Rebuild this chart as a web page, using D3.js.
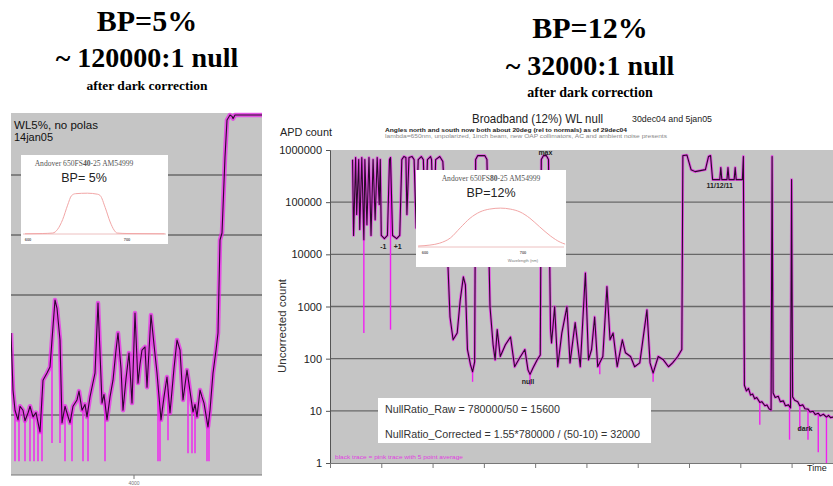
<!DOCTYPE html>
<html>
<head>
<meta charset="utf-8">
<script src="https://cdn.jsdelivr.net/npm/d3@7/dist/d3.min.js"></script>
<style>
  html, body { margin: 0; padding: 0; background: #fff; }
  svg { display: block; }
</style>
</head>
<body>
<svg id="chart" width="833" height="486"></svg>
<script>
// ---------------- data ----------------
// headline blocks above each panel
const headlineLeft = ["BP=5%", "~ 120000:1 null", "after dark correction"];
const headlineRight = ["BP=12%", "~ 32000:1 null", "after dark correction"];

// WL5% scan (14jan05): sample index vs APD count, 5-point average
const leftTime = [2770, 2790, 2810, 2840, 2860, 2890, 2910, 2940, 2960, 2990,
  3020, 3060, 3090, 3130, 3160, 3190, 3210, 3230, 3260, 3280,
  3310, 3330, 3360, 3390, 3430, 3450, 3480, 3510, 3530, 3560,
  3580, 3610, 3640, 3660, 3680, 3700, 3730, 3760, 3790, 3820,
  3840, 3870, 3890, 3920, 3950, 3980, 4010, 4040, 4060, 4080,
  4110, 4130, 4170, 4200, 4230, 4270, 4300, 4330, 4360, 4400,
  4430, 4460, 4490, 4530, 4560, 4590, 4610, 4630, 4660, 4680,
  4700, 4740, 4760, 4790, 4820, 4840, 4860, 4880, 4910, 4930,
  4960, 4980, 4990, 5010, 5280];
const leftCount = [233, 26, 12, 8.3, 14, 12, 8, 10.8, 14, 9.3,
  11, 5.2, 38, 50, 63, 300, 826, 600, 178, 7.4,
  14, 10.8, 7.4, 14, 17.8, 25, 12, 15, 9.3, 20,
  29, 50, 736, 110, 15.8, 22, 8.3, 20, 38, 120,
  233, 60, 12, 40, 108, 15.8, 500, 34, 70, 121,
  136, 29, 464, 150, 50, 8.3, 20, 43, 10.8, 60,
  178, 121, 17.8, 56, 25, 11.2, 15, 9.3, 26, 20,
  15.8, 6.3, 12, 50, 120, 233, 8250, 10800, 200000, 826000,
  1000000, 950000, 870000, 1000000, 1000000];
// raw-trace dropouts below the averaged curve
const leftSpikeTime = [2810, 2850, 2910, 2960, 3000, 3040, 3080, 3180, 3260, 3310,
  3380, 3490, 3540, 3710, 4240, 4260, 4340, 4540, 4580, 4610, 4730, 4750];
const leftSpikeLow = [1.7, 1.7, 1.7, 1.7, 1.7, 1.7, 1.7, 3.4, 3.4, 1.7,
  1.7, 1.7, 1.7, 1.7, 1.7, 1.7, 3.8, 2.3, 2.3, 2.3, 1.7, 1.7];
const leftTickValues = [4000];

// Broadband (12%) WL null, 30dec04 and 5jan05
const rightTime = [22, 23, 25, 26, 28, 29, 31, 33, 34, 36,
  38, 40, 42, 44, 46, 48, 49, 50, 53, 56,
  58, 59, 61, 65, 68, 70, 72, 74, 75, 77,
  80, 82, 84, 86, 89, 91, 93, 95, 98, 99,
  101, 103, 107, 110, 114, 117, 120, 124, 127, 130,
  132, 134, 137, 139, 141, 142, 144, 151, 153, 156,
  159, 161, 163, 166, 171, 176, 180, 185, 190, 193,
  195, 198, 202, 205, 206, 208, 211, 213, 215, 216,
  219, 222, 226, 231, 234, 239, 244, 249, 252, 255,
  258, 261, 266, 270, 273, 276, 280, 285, 288, 293,
  297, 302, 309, 312, 315, 320, 325, 330, 334, 339,
  343, 344, 348, 352, 356, 366, 369, 371, 373, 380,
  381, 382, 387, 388, 389, 394, 395, 396, 402, 403,
  404, 406, 408, 410, 412, 414, 416, 419, 421, 424,
  426, 428, 430, 431, 432, 434, 437, 439, 442, 444,
  447, 449, 450, 451, 453, 456, 458, 461, 463, 466,
  468, 471, 473, 476, 478, 481, 484, 486, 488, 491];
const rightCount = [654000, 23000, 715000, 58000, 654000, 30000, 715000, 19000, 654000, 37000,
  715000, 23000, 654000, 46000, 715000, 90000, 654000, 23000, 20000, 23000,
  654000, 715000, 23000, 20000, 23000, 654000, 750000, 715000, 58000, 715000,
  750000, 654000, 32000, 654000, 750000, 654000, 37000, 654000, 750000, 654000,
  27000, 654000, 750000, 600000, 19000, 630, 230, 310, 1350, 3700,
  2600, 150, 76, 56, 87, 654000, 780000, 780000, 654000, 990,
  185, 95, 360, 110, 185, 260, 70, 104, 150, 61,
  50, 67, 95, 118, 654000, 780000, 780000, 654000, 360, 200,
  990, 70, 310, 990, 83, 490, 70, 4400, 95, 150,
  630, 70, 110, 2400, 230, 310, 70, 230, 130, 110,
  70, 83, 860, 83, 53, 110, 95, 70, 83, 110,
  150, 780000, 800000, 420000, 385000, 420000, 750000, 780000, 270000, 270000,
  460000, 270000, 270000, 460000, 270000, 270000, 460000, 270000, 270000, 750000,
  31, 24, 27, 20, 21, 17, 18, 14.5, 15, 12.5,
  13, 11, 10.4, 750000, 22, 18, 19, 15, 15.5, 12.5,
  13, 11.4, 270000, 18.5, 16, 15, 12.5, 13, 11, 10.8,
  9.5, 9.8, 8.5, 9, 8, 8.6, 7.6, 8.2, 7.4, 7.6];
const rightSpikeTime = [33, 59, 139, 195, 263, 315, 419, 448, 458, 466, 476, 484];
const rightSpikeLow = [310, 360, 36, 31, 50, 36, 5.4, 2.8, 4.3, 2.8, 1.6, 1.0];

const decades = [1, 10, 100, 1000, 10000, 100000, 1000000];
const decadeLabels = ["1", "10", "100", "1000", "10000", "100000", "1000000"];
const timeTicks = [0, 50, 100, 150, 200, 250, 300, 350, 400, 450, 500];

// trace annotations: label, time, count
const noteText = ["-1", "+1", "max", "null", "11/12/11", "dark"];
const noteTime = [52, 66, 210, 193, 380, 463];
const noteCount = [14000, 14000, 890000, 37, 207000, 4.5];

// filter transmission curves (wavelength nm, transmission %)
const narrowWl = [597, 615, 625, 630, 635, 640, 644, 648, 660, 670, 673, 678, 683, 687, 690, 700, 738];
const narrowT = [0.5, 1, 2, 10, 30, 60, 80, 84, 85, 83, 80, 55, 25, 8, 2, 1, 0.5];
const broadWl = [593, 605, 615, 626, 636, 646, 656, 666, 677, 687, 697, 707, 717, 728, 738, 743];
const broadT = [2, 4, 8, 19, 40, 60, 73, 79, 81, 79, 73, 60, 42, 23, 10, 6];
const wlTicks = [600, 700];

const nullRatioLines = ["NullRatio_Raw = 780000/50 = 15600",
  "NullRatio_Corrected = 1.55*780000 / (50-10) = 32000"];

// ---------------- drawing ----------------
const svg = d3.select("#chart");
const SANS = "'Liberation Sans', Arial, Helvetica, sans-serif";
const SERIF = "'Liberation Serif', 'Times New Roman', serif";
const PLOT_BG = "#c5c5c5";
const GRID = "#686868";
const TRACE = "#2c0a2c";
const RAW = "#f020f0";

svg.append("rect").attr("width", 833).attr("height", 486).attr("fill", "#fff");

function countAt(times, counts, t) {
  const i = d3.bisectLeft(times, t);
  if (i <= 0) return counts[0];
  if (i >= times.length) return counts[counts.length - 1];
  const f = (t - times[i - 1]) / (times[i] - times[i - 1]);
  return Math.exp(Math.log(counts[i - 1]) * (1 - f) + Math.log(counts[i]) * f);
}

function drawTrace(g, x, y, times, counts, spikeT, spikeLow, band) {
  const pts = times.map((t, i) => [t, counts[i]]);
  const line = d3.line().x(d => x(d[0])).y(d => y(d[1]));
  g.append("path").attr("d", line(pts)).attr("fill", "none")
    .attr("stroke", RAW).attr("stroke-width", band)
    .attr("stroke-linejoin", "round").attr("stroke-opacity", 0.7);
  g.selectAll(null).data(spikeT.map((t, i) => [t, spikeLow[i]])).join("line")
    .attr("x1", d => x(d[0])).attr("x2", d => x(d[0]))
    .attr("y1", d => y(countAt(times, counts, d[0]))).attr("y2", d => y(d[1]))
    .attr("stroke", RAW).attr("stroke-width", 1.4);
  g.append("path").attr("d", line(pts)).attr("fill", "none")
    .attr("stroke", TRACE).attr("stroke-width", 1.1).attr("stroke-linejoin", "round");
}

function filterInset(g, box, tx, x, y, wl, tr, model, bp) {
  g.append("rect").attr("x", box[0]).attr("y", box[1])
    .attr("width", box[2] - box[0]).attr("height", box[3] - box[1]).attr("fill", "#fff");
  const t = g.append("text").attr("x", tx).attr("y", box[1] + 11)
    .attr("text-anchor", "middle").attr("font-family", SERIF)
    .attr("font-size", 7.6).attr("fill", "#555");
  t.append("tspan").text("Andover 650FS");
  t.append("tspan").attr("font-weight", "bold").text(model);
  t.append("tspan").text("-25 AM54999");
  g.append("text").attr("x", tx).attr("y", box[1] + 27)
    .attr("text-anchor", "middle").attr("font-family", SANS)
    .attr("font-size", 12.5).attr("fill", "#222").text(bp);
  const base = y(0);
  g.append("line").attr("x1", box[0] + 2).attr("x2", box[2] - 2)
    .attr("y1", base).attr("y2", base).attr("stroke", "#e8b0b0").attr("stroke-width", 0.8);
  g.append("path").attr("d", d3.line().curve(d3.curveMonotoneX)
      .x(d => x(d[0])).y(d => y(d[1]))(wl.map((w, i) => [w, tr[i]])))
    .attr("fill", "none").attr("stroke", "#f2a6a6").attr("stroke-width", 1);
  g.selectAll(null).data(wlTicks).join("text")
    .attr("x", d => x(d)).attr("y", base + 7).attr("text-anchor", "middle")
    .attr("font-family", SANS).attr("font-size", 4).attr("font-weight", "bold")
    .attr("fill", "#666").text(d => d);
}

// headlines
function headline(lines, cx, ys, sizes) {
  lines.forEach((s, i) => {
    svg.append("text").attr("x", cx).attr("y", ys[i]).attr("text-anchor", "middle")
      .attr("font-family", SERIF).attr("font-weight", "bold")
      .attr("font-size", sizes[i]).attr("fill", "#000").text(s);
  });
}
headline(headlineLeft, 147, [31, 67, 90], [30, 28, 13.5]);
headline(headlineRight, 590, [38, 75, 97], [30, 28, 14]);

// ---------- left panel ----------
const lx = d3.scaleLinear().domain([2770, 5280]).range([11, 262]);
const ly = d3.scaleLog().domain([1, 1e6]).range([475, 115]);
const gl = svg.append("g");
gl.append("rect").attr("x", 11).attr("y", 113).attr("width", 251).attr("height", 362).attr("fill", PLOT_BG);
gl.selectAll(null).data(decades.slice(1, 6)).join("line")
  .attr("x1", 11).attr("x2", 262).attr("y1", d => ly(d)).attr("y2", d => ly(d))
  .attr("stroke", GRID).attr("stroke-width", 1.4);
svg.append("defs").append("clipPath").attr("id", "clipL")
  .append("rect").attr("x", 11).attr("y", 112).attr("width", 251).attr("height", 363);
const gL = gl.append("g").attr("clip-path", "url(#clipL)");
drawTrace(gL, lx, ly, leftTime, leftCount, leftSpikeTime, leftSpikeLow, 4.5);
gl.append("line").attr("x1", 11).attr("x2", 262).attr("y1", ly(1)).attr("y2", ly(1))
  .attr("stroke", "#777").attr("stroke-width", 1.2);
gl.selectAll(null).data(leftTickValues).join("line")
  .attr("x1", d => lx(d)).attr("x2", d => lx(d)).attr("y1", ly(1)).attr("y2", ly(1) + 4)
  .attr("stroke", "#777");
gl.selectAll(null).data(leftTickValues).join("text")
  .attr("x", d => lx(d)).attr("y", 485).attr("text-anchor", "middle")
  .attr("font-family", SANS).attr("font-size", 5).attr("fill", "#777").text(d => d);
gl.append("text").attr("x", 14).attr("y", 129).attr("font-family", SANS)
  .attr("font-size", 11).attr("textLength", 84).attr("lengthAdjust", "spacingAndGlyphs")
  .attr("fill", "#111").text("WL5%, no polas");
gl.append("text").attr("x", 14).attr("y", 141).attr("font-family", SANS)
  .attr("font-size", 11).attr("textLength", 39).attr("lengthAdjust", "spacingAndGlyphs")
  .attr("fill", "#111").text("14jan05");
filterInset(gl, [21, 155, 168, 244], 84,
  d3.scaleLinear().domain([600, 700]).range([28, 127]),
  d3.scaleLinear().domain([0, 100]).range([234, 186]),
  narrowWl, narrowT, "40", "BP= 5%");

// ---------- right panel ----------
const rx = d3.scaleLinear().domain([0, 505]).range([330, 848]);
const ry = d3.scaleLog().domain([1, 1e6]).range([463, 150]);
const gr = svg.append("g");
gr.append("rect").attr("x", 330).attr("y", 150).attr("width", 503).attr("height", 313).attr("fill", PLOT_BG);
gr.selectAll(null).data(decades.slice(1, 6)).join("line")
  .attr("x1", 330).attr("x2", 833).attr("y1", d => ry(d)).attr("y2", d => ry(d))
  .attr("stroke", GRID).attr("stroke-width", 1.3);

svg.select("defs").append("clipPath").attr("id", "clipR")
  .append("rect").attr("x", 330).attr("y", 148).attr("width", 503).attr("height", 315);
const gR = gr.append("g").attr("clip-path", "url(#clipR)");
drawTrace(gR, rx, ry, rightTime, rightCount, rightSpikeTime, rightSpikeLow, 2.8);

// axes
const yAxis = gr.append("g").attr("transform", "translate(330,0)")
  .call(d3.axisLeft(ry).tickValues(decades).tickFormat((d, i) => decadeLabels[i]).tickSize(4).tickPadding(4));
yAxis.select(".domain").attr("stroke", "#555");
yAxis.selectAll(".tick line").attr("stroke", "#555");
yAxis.selectAll("text").attr("font-family", SANS).attr("font-size", 11).attr("fill", "#222");
const xAxis = gr.append("g").attr("transform", "translate(0,463)")
  .call(d3.axisBottom(rx).tickValues(timeTicks).tickFormat("").tickSize(5));
xAxis.select(".domain").attr("stroke", "#777");
xAxis.selectAll(".tick line").attr("stroke", "#777");

// titles
gr.append("text").attr("x", 472).attr("y", 122.5).attr("font-family", SANS).attr("font-size", 13)
  .attr("textLength", 131).attr("lengthAdjust", "spacingAndGlyphs").attr("fill", "#222")
  .text("Broadband (12%) WL null");
gr.append("text").attr("x", 632).attr("y", 122).attr("font-family", SANS).attr("font-size", 9.5)
  .attr("textLength", 80).attr("lengthAdjust", "spacingAndGlyphs").attr("fill", "#222")
  .text("30dec04 and 5jan05");
gr.append("text").attr("x", 385).attr("y", 131.5).attr("font-family", SANS).attr("font-size", 6)
  .attr("font-weight", "bold").attr("textLength", 242).attr("lengthAdjust", "spacingAndGlyphs")
  .attr("fill", "#222").text("Angles north and south now both about 20deg (rel to normals) as of 29dec04");
gr.append("text").attr("x", 385).attr("y", 137.5).attr("font-family", SANS).attr("font-size", 5.5)
  .attr("textLength", 282).attr("lengthAdjust", "spacingAndGlyphs").attr("fill", "#888")
  .text("lambda=650nm, unpolarized, 1inch beam, new OAP collimators, AC and ambient noise presents");
gr.append("text").attr("x", 280).attr("y", 136).attr("font-family", SANS).attr("font-size", 11)
  .attr("textLength", 52).attr("lengthAdjust", "spacingAndGlyphs").attr("fill", "#222")
  .text("APD count");
gr.append("text").attr("transform", "translate(286,326) rotate(-90)")
  .attr("text-anchor", "middle").attr("font-family", SANS).attr("font-size", 11.5)
  .attr("fill", "#333").text("Uncorrected count");
gr.append("text").attr("x", 807).attr("y", 471).attr("font-family", SANS).attr("font-size", 9)
  .attr("fill", "#222").text("Time");

// annotations on the trace
gr.selectAll(null).data(noteText).join("text")
  .attr("x", (d, i) => rx(noteTime[i])).attr("y", (d, i) => ry(noteCount[i]))
  .attr("dy", "0.35em").attr("text-anchor", "middle")
  .attr("font-family", SANS).attr("font-size", 7).attr("font-weight", "bold")
  .attr("fill", "#222").text(d => d);

// filter inset
filterInset(gr, [416, 170, 566, 267], 491,
  d3.scaleLinear().domain([600, 700]).range([425, 523]),
  d3.scaleLinear().domain([0, 100]).range([247, 199]),
  broadWl, broadT, "80", "BP=12%");
gr.append("text").attr("x", 523).attr("y", 262).attr("text-anchor", "middle")
  .attr("font-family", SANS).attr("font-size", 4).attr("fill", "#777").text("Wavelength (nm)");

// null ratio box
gr.append("rect").attr("x", 378).attr("y", 398).attr("width", 273).attr("height", 45).attr("fill", "#fff");
gr.selectAll(null).data(nullRatioLines).join("text")
  .attr("x", 385).attr("y", (d, i) => 413 + i * 24.5)
  .attr("font-family", SANS).attr("font-size", 11)
  .attr("textLength", (d, i) => [175, 255][i]).attr("lengthAdjust", "spacingAndGlyphs")
  .attr("fill", "#333").text(d => d);

// trace legend note
gr.append("text").attr("x", 335).attr("y", 459).attr("font-family", SANS).attr("font-size", 5)
  .attr("textLength", 128).attr("lengthAdjust", "spacingAndGlyphs").attr("fill", "#e040e0")
  .text("black trace = pink trace with 5 point average");
</script>
</body>
</html>
